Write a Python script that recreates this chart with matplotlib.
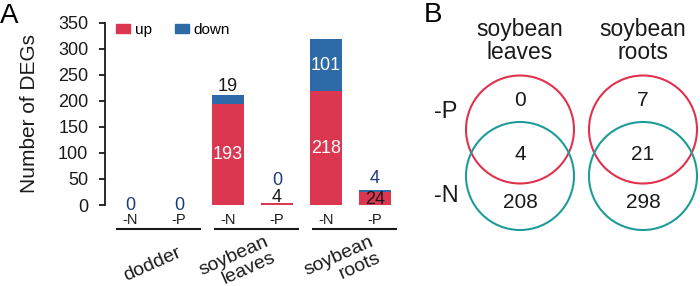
import matplotlib
matplotlib.use("Agg")
import matplotlib.pyplot as plt
from matplotlib.patches import Circle, Patch
import numpy as np

plt.rcParams['font.family'] = ['Liberation Sans', 'DejaVu Sans']

# ---------------- data ----------------
groups = ["dodder", "soybean\nleaves", "soybean\nroots"]
treatments = ["-N", "-P", "-N", "-P", "-N", "-P"]
up_vals = [0, 0, 193, 4, 218, 24]
down_vals = [0, 0, 19, 0, 101, 4]
yticks = [0, 50, 100, 150, 200, 250, 300, 350]

venn_titles = ["soybean\nleaves", "soybean\nroots"]
venn_only_P = [0, 7]
venn_both = [4, 21]
venn_only_N = [208, 298]

RED = '#DC3750'
BLUE = '#2F6AA8'
NAVY = '#1F3A7A'
DARK = '#1a1a1a'
VRED = '#E0324C'
VTEAL = '#1E9C98'

W, H = 700, 286
fig = plt.figure(figsize=(W / 100, H / 100), dpi=100)

# ---------------- panel A ----------------
px_per_unit = 49.0
x0_pix = 130.0
left_pix = 105.0
xl = (left_pix - x0_pix) / px_per_unit
xr = 5.6
ax_w = (xr - xl) * px_per_unit
ax_top, ax_bot = 22.7, 205.0
ax = fig.add_axes([left_pix / W, (H - ax_bot) / H, ax_w / W, (ax_bot - ax_top) / H])
ax.set_xlim(xl, xr)
ax.set_ylim(0, 350)
ax.patch.set_visible(False)

x = np.arange(len(up_vals))
bw = 0.66
ax.bar(x, up_vals, bw, color=RED, label='up', zorder=2)
ax.bar(x, down_vals, bw, bottom=up_vals, color=BLUE, label='down', zorder=2)

for sp in ['top', 'right', 'bottom']:
    ax.spines[sp].set_visible(False)
ax.spines['left'].set_linewidth(1.3)
ax.spines['left'].set_color(DARK)
ax.set_xticks([])
ax.set_yticks(yticks)
ax.tick_params(axis='y', length=4.5, width=1.3, direction='out', pad=7.5,
               labelsize=13, colors=DARK)

fs_val = 13
for i, (u, d) in enumerate(zip(up_vals, down_vals)):
    tot = u + d
    if tot == 0:
        ax.text(i, 0, f"{d}", ha='center', va='center', fontsize=fs_val, color=NAVY)
        continue
    if u > 50:
        ax.text(i, u / 2, f"{u}", ha='center', va='center', fontsize=fs_val, color='white')
    elif u > 15:
        ax.text(i, u / 2 - 2, f"{u}", ha='center', va='center', fontsize=fs_val, color=DARK)
    else:
        ax.text(i, tot + 10, f"{u}", ha='center', va='center', fontsize=fs_val, color=DARK)
    if d > 50:
        ax.text(i, u + d / 2, f"{d}", ha='center', va='center', fontsize=fs_val, color='white')
    elif d > 10:
        ax.text(i, tot + 15, f"{d}", ha='center', va='center', fontsize=fs_val, color=DARK)
    elif u > 15:
        ax.text(i, tot + 22, f"{d}", ha='center', va='center', fontsize=fs_val, color=NAVY)
    else:
        ax.text(i, tot + 43, f"{d}", ha='center', va='center', fontsize=fs_val, color=NAVY)

y_per_pix = 350 / (ax_bot - ax_top)
for i, t in enumerate(treatments):
    ax.text(i, -(219.5 - ax_bot) * y_per_pix, t, ha='center', va='center',
            fontsize=10.5, color=DARK, clip_on=False)

line_y = -(228.5 - ax_bot) * y_per_pix
label_dx = [-0.05, -0.31, -0.17]
for g, name in enumerate(groups):
    a = 2 * g
    ax.plot([a - 0.29, a + 1 + 0.45], [line_y, line_y], color=DARK, lw=1.5,
            clip_on=False, solid_capstyle='butt')
    ax.text(a + 0.5 + label_dx[g], -(264 - ax_bot) * y_per_pix, name, rotation=24,
            rotation_mode='anchor', ha='center', va='center', fontsize=14,
            color=DARK, linespacing=1.05, multialignment='right', clip_on=False)

handles = [Patch(color=RED, label='up'), Patch(color=BLUE, label='down')]
fig.legend(handles=handles, loc='upper left', bbox_to_anchor=(116 / W, 1 - 23 / H),
           ncol=2, frameon=False, fontsize=11, handlelength=0.92, handleheight=0.45,
           handletextpad=0.3, columnspacing=1.5, borderpad=0, borderaxespad=0)

fig.text(30 / W, 1 - 114 / H, "Number of DEGs", rotation=90, ha='center', va='center',
         fontsize=15, color=DARK)
fig.text(0 / W, 1 - 16 / H, "A", ha='left', va='center', fontsize=20, color='black')

# ---------------- panel B ----------------
ov = fig.add_axes([0, 0, 1, 1])
ov.set_xlim(0, W)
ov.set_ylim(H, 0)
ov.axis('off')
ov.patch.set_visible(False)

ov.text(424, 15, "B", ha='left', va='center', fontsize=20, color='black')
cx = [520, 643]
r = 54
for k in range(2):
    ov.add_patch(Circle((cx[k], 129.5), r, fill=False, ec=VRED, lw=1.5))
    ov.add_patch(Circle((cx[k], 176), r, fill=False, ec=VTEAL, lw=1.5))
    ov.text(cx[k], 41, venn_titles[k], ha='center', va='center', fontsize=16.5,
            color=DARK, linespacing=1.0, multialignment='center')
    ov.text(cx[k], 101, f"{venn_only_P[k]}", ha='center', va='center', fontsize=15, color=DARK)
    ov.text(cx[k], 154, f"{venn_both[k]}", ha='center', va='center', fontsize=15, color=DARK)
    ov.text(cx[k], 203, f"{venn_only_N[k]}", ha='center', va='center', fontsize=15, color=DARK)

ov.text(446, 112, "-P", ha='center', va='center', fontsize=17, color=DARK)
ov.text(446, 196, "-N", ha='center', va='center', fontsize=17, color=DARK)

fig.savefig("out.png", dpi=100)
